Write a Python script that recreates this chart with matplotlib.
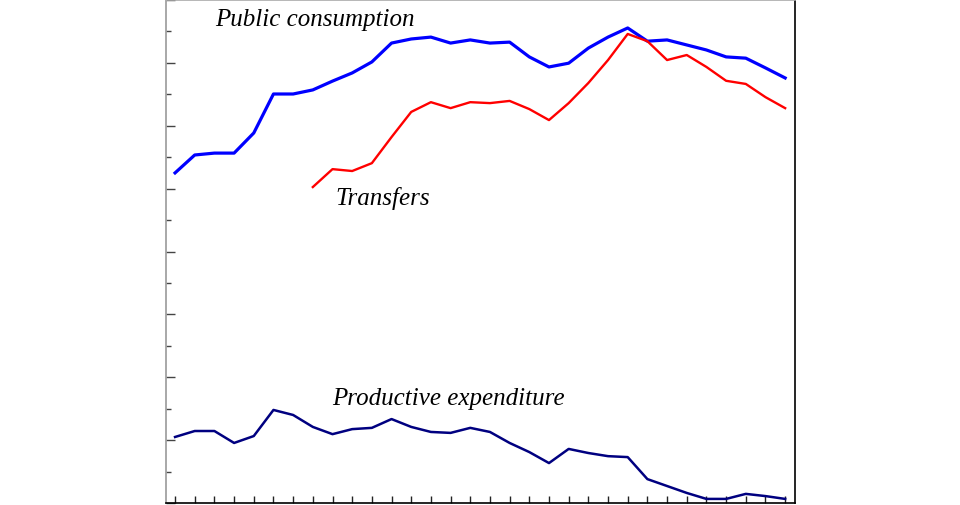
import matplotlib.pyplot as plt
from matplotlib.ticker import MultipleLocator
import numpy as np

years = list(range(1970, 2002))

public_consumption = [10.50, 11.07, 11.13, 11.13, 11.77, 13.01, 13.01, 13.14, 13.42, 13.68,
                      14.03, 14.63, 14.76, 14.82, 14.63, 14.73, 14.63, 14.66, 14.19, 13.87,
                      13.99, 14.47, 14.82, 15.11, 14.69, 14.73, 14.57, 14.41, 14.19, 14.15,
                      13.84, 13.52]

# transfers start in 1977
transfer_years = years[7:]
transfers = [10.05, 10.62, 10.56, 10.81, 11.64, 12.44, 12.75, 12.56, 12.75, 12.72,
             12.79, 12.53, 12.18, 12.72, 13.36, 14.09, 14.92, 14.69, 14.09, 14.25,
             13.87, 13.43, 13.33, 12.91, 12.56]

productive = [2.10, 2.29, 2.29, 1.91, 2.13, 2.96, 2.80, 2.42, 2.19, 2.35,
              2.39, 2.67, 2.42, 2.26, 2.23, 2.39, 2.26, 1.91, 1.62, 1.27,
              1.72, 1.59, 1.49, 1.46, 0.76, 0.54, 0.32, 0.13, 0.13, 0.29,
              0.22, 0.13]

fig = plt.figure(figsize=(9.6, 5.05), dpi=100)
ax = fig.add_axes([166 / 960, 2 / 505, 629 / 960, 503 / 505])

ax.plot(years, public_consumption, color='#0000ff', lw=2.3, solid_joinstyle='round')
ax.plot(transfer_years, transfers, color='#ff0000', lw=1.7, solid_joinstyle='round')
ax.plot(years, productive, color='#000080', lw=1.8, solid_joinstyle='round')

ax.set_xlim(years[0] - 0.46, years[-1] + 0.5)
ax.set_ylim(0, 16)

lab = dict(family='Liberation Serif', style='italic', fontsize=18, va='center', ha='left')
ax.text(1972.05, 15.36, 'Public consumption', **lab)
ax.text(1978.12, 9.70, 'Transfers', **lab)
ax.text(1977.98, 3.32, 'Productive expenditure', **lab)

ax.yaxis.set_major_locator(MultipleLocator(2))
ax.yaxis.set_minor_locator(MultipleLocator(1))
ax.xaxis.set_major_locator(MultipleLocator(1))
ax.tick_params(axis='y', which='major', direction='in', length=6.5, width=1, color='#444444')
ax.tick_params(axis='y', which='minor', direction='in', length=3.8, width=1, color='#444444')
ax.tick_params(axis='x', which='major', direction='in', length=5, width=1, color='#222222')
ax.tick_params(labelleft=False, labelbottom=False)

ax.spines['left'].set_color('#999999')
ax.spines['top'].set_color('#aaaaaa')
ax.spines['right'].set_color('black')
ax.spines['bottom'].set_color('black')
for s in ax.spines.values():
    s.set_linewidth(1.2)

fig.savefig('out.png', dpi=100, facecolor='white')
